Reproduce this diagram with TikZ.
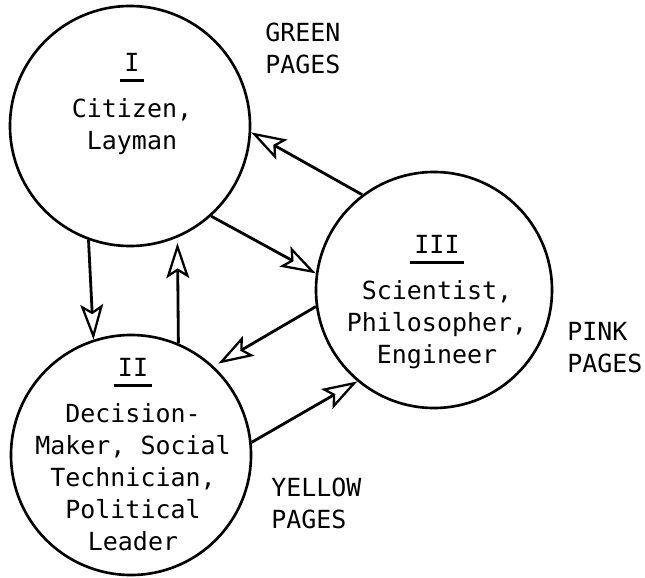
\documentclass[tikz,border=0pt]{standalone}
\usepackage{fontspec}
\setmonofont{DejaVu Sans Mono}
\usepackage{tikz}
\usetikzlibrary{arrows.meta}

\newbox\numbox
\newcommand{\rolenum}[1]{\setbox\numbox\hbox{#1}\leavevmode\rlap{\hbox to \wd\numbox{\hss\vrule width \dimexpr\wd\numbox+5pt\relax height -4.3pt depth 6pt\hss}}\box\numbox}

\begin{document}
\begin{tikzpicture}[scale=0.2,
    role/.style={draw=black, line width=1.5pt, circle, minimum size=4.8cm},
    words/.style={font=\ttfamily\fontsize{14.2}{18.2}\selectfont, align=center, anchor=north},
    pages/.style={font=\ttfamily\fontsize{14.2}{18.2}\selectfont, align=left, anchor=north west},
    link/.style={line width=1.6pt, -{Stealth[open, length=20pt, width=13pt, inset=4pt, line width=1.3pt]}}]
    \tikzstyle{every node}+=[inner sep=0pt]
    \useasboundingbox (0,0) rectangle (64.5,-57.7);
    \node [role] (I) at (13.0,-12.6) {};
    \node [role] (II) at (13.1,-45.5) {};
    \node [role, minimum size=4.72cm] (III) at (43.4,-29.0) {};
    \node [words] (I-text) at (13.2,-5.3) {\rolenum{I}\\[8pt] Citizen,\\ Layman};
    \node [words] (II-text) at (13.3,-35.8) {\rolenum{II}\\[8pt] Decision-\\ Maker, Social\\ Technician,\\ Political\\ Leader};
    \node [words] (III-text) at (43.7,-23.5) {\rolenum{III}\\[8pt] Scientist,\\ Philosopher,\\ Engineer};
    \node [pages] (green) at (26.5,-2.3) {GREEN\\PAGES};
    \node [pages] (pink) at (56.7,-32.2) {PINK\\PAGES};
    \node [pages] (yellow) at (27.1,-47.8) {YELLOW\\PAGES};
    \draw [link] (I.250.5) -- (II.108);
    \draw [link, shorten >=3pt] (II.67) -- (I.-67);
    \draw [link] (I.-48) -- (III.172);
    \draw [link] (III.127) -- (I.-3);
    \draw [link, shorten >=3pt] (III.188) -- (II.47);
    \draw [link] (II.6) -- (III.230);
\end{tikzpicture}
\end{document}
